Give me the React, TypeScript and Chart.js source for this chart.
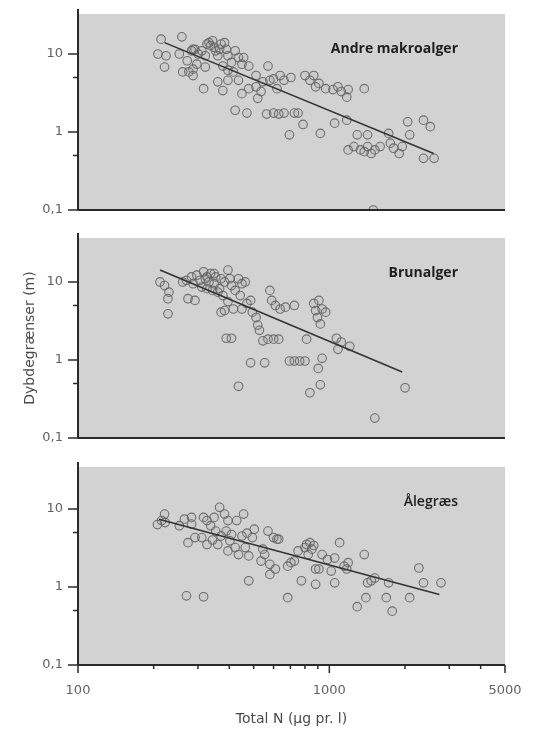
import React, { useEffect, useRef } from 'react';
import { Chart, registerables } from 'chart.js';

Chart.register(...registerables);

const FONT = "'Open Sans', 'DejaVu Sans', sans-serif";
const AXFONT = "'DejaVu Sans', 'Open Sans', sans-serif";

// Axis ticks
const xTickValues = [100, 1000, 5000];
const xMinorTicks = [200, 300, 400, 500, 600, 700, 800, 900, 2000, 3000, 4000];
const yTickValues = [0.1, 1, 10];
const yMinorTicks = [0.5, 5];

const panelTitles = ['Andre makroalger', 'Brunalger', 'Ålegræs'];
const xAxisTitle = 'Total N (µg pr. l)';
const yAxisTitle = 'Dybdegrænser (m)';

// Panel 1: Andre makroalger
const makroN = [214, 259, 208, 224, 221, 253, 261, 276, 287, 283, 292, 301, 316, 321, 326, 332, 337, 348, 353, 360, 371, 383, 389, 395, 408, 422, 435, 456, 360, 377, 395, 415, 422, 435, 449, 470, 478, 511, 519, 535, 544, 570, 580, 600, 619, 637, 660, 703, 563, 600, 629, 660, 694, 726, 751, 786, 800, 837, 867, 882, 909, 921, 967, 1034, 1082, 1116, 1173, 1188, 1377, 1050, 1173, 1188, 1253, 1291, 1330, 1377, 1420, 1468, 1517, 1420, 1592, 1722, 1749, 1802, 1896, 1950, 2088, 2050, 2369, 2522, 2369, 2611, 1496, 287, 311, 343, 366, 272, 297, 321, 377, 449, 478, 395, 511, 287];
const makroD = [15.5, 16.6, 10, 9.5, 6.8, 10, 5.9, 5.9, 5.3, 11, 11.5, 10, 3.6, 6.8, 13.4, 14, 12.8, 12.2, 11, 9.5, 13.4, 14, 11.5, 9.5, 7.8, 11, 9, 9, 4.4, 3.4, 4.6, 5.9, 1.9, 4.6, 3.1, 1.75, 3.6, 3.8, 2.7, 3.3, 4.4, 7, 4.6, 4.8, 3.6, 5.3, 4.6, 5, 1.7, 1.75, 1.7, 1.75, 0.92, 1.75, 1.75, 1.25, 5.3, 4.6, 5.3, 3.8, 4.2, 0.96, 3.6, 3.5, 3.8, 3.3, 2.8, 3.5, 3.6, 1.3, 1.42, 0.59, 0.65, 0.92, 0.59, 0.56, 0.65, 0.53, 0.59, 0.92, 0.65, 0.96, 0.72, 0.62, 0.53, 0.65, 0.92, 1.35, 1.42, 1.17, 0.46, 0.46, 0.1, 11.5, 11, 14.8, 11.5, 8.2, 7.4, 9.5, 7, 7.4, 7, 6.2, 5.3, 6.4];
const makroFitN = [221, 2600];
const makroFitD = [14, 0.53];

// Panel 2: Brunalger
const brunN = [212, 221, 230, 228, 228, 270, 274, 292, 261, 283, 297, 306, 316, 321, 332, 337, 348, 353, 366, 371, 383, 395, 402, 408, 422, 435, 449, 463, 442, 371, 383, 389, 408, 435, 449, 470, 486, 494, 511, 519, 527, 544, 570, 600, 629, 486, 553, 580, 590, 610, 637, 669, 726, 694, 726, 762, 800, 812, 837, 867, 882, 897, 909, 921, 936, 967, 903, 921, 936, 1067, 1116, 1082, 1206, 1517, 2002, 287, 311, 326, 343, 360, 377, 326, 348, 415, 395];
const brunD = [10, 9, 7.4, 6.1, 3.9, 10.5, 6.1, 5.8, 10, 11.6, 12.2, 10.5, 13.5, 11, 10, 12.8, 9.5, 11.6, 8.2, 11, 10, 14.2, 11, 9, 7.8, 11, 9.5, 10, 6.7, 4.1, 4.3, 1.9, 1.9, 0.46, 4.5, 5.3, 5.8, 4.1, 3.5, 2.8, 2.4, 1.76, 1.85, 1.85, 1.85, 0.92, 0.92, 7.8, 5.8, 5, 4.5, 4.75, 5, 0.97, 0.97, 0.97, 0.97, 1.85, 0.38, 5.3, 4.3, 3.5, 5.8, 2.9, 4.5, 4.1, 0.78, 0.48, 1.05, 1.9, 1.7, 1.37, 1.5, 0.18, 0.44, 9.5, 8.6, 8.2, 7.8, 7.4, 6.7, 11.6, 12.8, 4.5, 5.6];
const brunFitN = [212, 1950];
const brunFitD = [14.2, 0.7];

// Panel 3: Ålegræs
const aleN = [207, 215, 221, 222, 253, 265, 274, 283, 283, 292, 311, 316, 326, 337, 348, 353, 360, 366, 371, 383, 389, 395, 402, 408, 422, 428, 435, 449, 456, 463, 478, 470, 503, 478, 535, 544, 553, 570, 580, 600, 610, 629, 683, 703, 726, 751, 774, 800, 812, 824, 837, 852, 867, 882, 882, 909, 936, 983, 1017, 1050, 1050, 1099, 1145, 1173, 1188, 683, 270, 316, 1291, 1377, 1398, 1420, 1468, 1517, 1685, 1722, 1779, 2088, 2272, 2369, 2781, 326, 343, 395, 494, 580, 619];
const aleD = [6.3, 7.1, 8.6, 6.7, 6.1, 7.4, 3.7, 6.4, 7.8, 4.3, 4.3, 7.8, 7.1, 6.1, 7.8, 5.2, 3.5, 10.5, 4.5, 8.6, 5.2, 7.1, 3.9, 4.7, 3.2, 7.1, 2.6, 4.5, 8.6, 3.2, 2.5, 4.9, 5.5, 1.2, 2.15, 3.05, 2.6, 5.2, 1.45, 4.3, 1.7, 4.1, 1.85, 2.05, 2.15, 2.9, 1.2, 3.2, 3.5, 2.6, 3.7, 3.05, 3.4, 1.7, 1.08, 1.7, 2.6, 2.25, 1.6, 2.35, 1.13, 3.7, 1.85, 1.7, 2.05, 0.73, 0.77, 0.75, 0.56, 2.6, 0.73, 1.13, 1.2, 1.3, 0.73, 1.13, 0.49, 0.73, 1.75, 1.13, 1.13, 3.5, 4, 2.9, 4.3, 1.95, 4.1];
const aleFitN = [210, 2740];
const aleFitD = [7.4, 0.8];

const W = 544;
const AXIS_LEFT = 78;
const PAD_RIGHT = 39;

type PanelProps = {
  n: number[];
  d: number[];
  fitN: number[];
  fitD: number[];
  title: string;
  titleWeight: string;
  top: number;
  height: number;
  padTop: number;
  padBottom: number;
  yMax: number;
  showX: boolean;
  showYTitle: boolean;
};

const decorPlugin = {
  id: 'panelDecor',
  beforeDraw(chart: any) {
    const { ctx, chartArea: a } = chart;
    ctx.save();
    ctx.fillStyle = '#d2d2d2';
    ctx.fillRect(a.left, a.top, a.right - a.left, a.bottom - a.top);
    ctx.restore();
  },
  afterDraw(chart: any, _args: any, opts: any) {
    const { ctx, chartArea: a } = chart;
    const xs = chart.scales.x;
    const ys = chart.scales.y;
    ctx.save();
    ctx.strokeStyle = '#2a2a2a';
    ctx.lineWidth = 2;
    ctx.beginPath();
    ctx.moveTo(a.left, a.top - 5);
    ctx.lineTo(a.left, a.bottom);
    ctx.moveTo(a.left, a.bottom);
    ctx.lineTo(a.right, a.bottom);
    ctx.stroke();
    ctx.lineWidth = 1.5;
    ctx.beginPath();
    yTickValues.forEach((v) => {
      const y = ys.getPixelForValue(v);
      ctx.moveTo(a.left - 10, y);
      ctx.lineTo(a.left, y);
    });
    yMinorTicks.forEach((v) => {
      const y = ys.getPixelForValue(v);
      ctx.moveTo(a.left - 5, y);
      ctx.lineTo(a.left, y);
    });
    if (opts.showX) {
      xTickValues.forEach((v) => {
        const x = xs.getPixelForValue(v);
        ctx.moveTo(x, a.bottom);
        ctx.lineTo(x, a.bottom + 8);
      });
      xMinorTicks.forEach((v) => {
        const x = xs.getPixelForValue(v);
        ctx.moveTo(x, a.bottom);
        ctx.lineTo(x, a.bottom + 4);
      });
    }
    ctx.stroke();
    ctx.fillStyle = '#1e1e1e';
    ctx.font = opts.weight + ' 14px ' + FONT;
    ctx.textAlign = 'right';
    ctx.textBaseline = 'middle';
    ctx.fillText(opts.title, 458, a.top + 35);
    ctx.restore();
  },
};

function Panel(props: PanelProps) {
  const ref = useRef<HTMLCanvasElement | null>(null);
  useEffect(() => {
    const canvas = ref.current;
    if (!canvas) return;
    const points = props.n.map((v, i) => ({ x: v, y: props.d[i] }));
    const fit = props.fitN.map((v, i) => ({ x: v, y: props.fitD[i] }));
    const chart = new Chart(canvas, {
      type: 'scatter',
      data: {
        datasets: [
          {
            data: fit,
            showLine: true,
            borderColor: '#333',
            borderWidth: 1.6,
            pointRadius: 0,
          },
          {
            data: points,
            pointStyle: 'circle',
            pointRadius: 4.3,
            borderWidth: 1.1,
            pointBorderColor: 'rgba(100,100,100,0.9)',
            pointBackgroundColor: 'rgba(110,110,110,0.07)',
          },
        ],
      } as any,
      options: {
        animation: false,
        responsive: false,
        events: [],
        layout: {
          padding: { top: props.padTop, bottom: props.padBottom, left: 0, right: PAD_RIGHT },
        },
        plugins: {
          legend: { display: false },
          tooltip: { enabled: false },
          panelDecor: { title: props.title, weight: props.titleWeight, showX: props.showX },
        } as any,
        scales: {
          x: {
            type: 'logarithmic',
            min: 100,
            max: 5000,
            display: props.showX,
            afterBuildTicks: (s: any) => {
              s.ticks = xTickValues.map((v) => ({ value: v }));
            },
            afterFit: (s: any) => {
              s.height = props.showX ? 68 : 0;
              s.paddingLeft = 0;
              s.paddingRight = 0;
              s.paddingTop = 0;
              s.paddingBottom = 0;
            },
            grid: { display: false, drawTicks: false },
            border: { display: false },
            ticks: {
              autoSkip: false,
              maxRotation: 0,
              padding: 18,
              color: '#626262',
              font: { family: AXFONT, size: 13 },
              callback: (v: any) => String(v),
            },
            title: {
              display: props.showX,
              text: xAxisTitle,
              color: '#4a4a4a',
              font: { family: AXFONT, size: 14 },
              padding: { top: 0, bottom: 5 },
            },
          },
          y: {
            type: 'logarithmic',
            min: 0.1,
            max: props.yMax,
            afterBuildTicks: (s: any) => {
              s.ticks = yTickValues.map((v) => ({ value: v }));
            },
            afterFit: (s: any) => {
              s.width = AXIS_LEFT;
              s.paddingLeft = 0;
              s.paddingRight = 0;
              s.paddingTop = 0;
              s.paddingBottom = 0;
            },
            grid: { display: false, drawTicks: false },
            border: { display: false },
            ticks: {
              autoSkip: false,
              padding: 15,
              color: '#626262',
              font: { family: AXFONT, size: 13 },
              callback: (v: any) => (Math.abs(v - 0.1) < 1e-9 ? '0,1' : String(v)),
            },
            title: {
              display: props.showYTitle,
              text: yAxisTitle,
              color: '#4a4a4a',
              font: { family: AXFONT, size: 14 },
              padding: { top: 22, bottom: 0 },
            },
          },
        },
      } as any,
      plugins: [decorPlugin as any],
    });
    return () => chart.destroy();
  }, []);
  return (
    <canvas
      ref={ref}
      width={W}
      height={props.height}
      style={{ position: 'absolute', left: 0, top: props.top, width: W, height: props.height, display: 'block' }}
    />
  );
}

export default function App() {
  return (
    <div style={{ position: 'absolute', left: 0, top: 0, width: W, height: 733, background: '#fff' }}>
      <Panel n={makroN} d={makroD} fitN={makroFitN} fitD={makroFitD} title={panelTitles[0]} titleWeight="bold"
        top={0} height={225} padTop={14} padBottom={15} yMax={32.6} showX={false} showYTitle={false} />
      <Panel n={brunN} d={brunD} fitN={brunFitN} fitD={brunFitD} title={panelTitles[1]} titleWeight="bold"
        top={225} height={230} padTop={13} padBottom={17} yMax={36.6} showX={false} showYTitle={true} />
      <Panel n={aleN} d={aleD} fitN={aleFitN} fitD={aleFitD} title={panelTitles[2]} titleWeight="600"
        top={455} height={278} padTop={12} padBottom={0} yMax={34.5} showX={true} showYTitle={false} />
    </div>
  );
}
